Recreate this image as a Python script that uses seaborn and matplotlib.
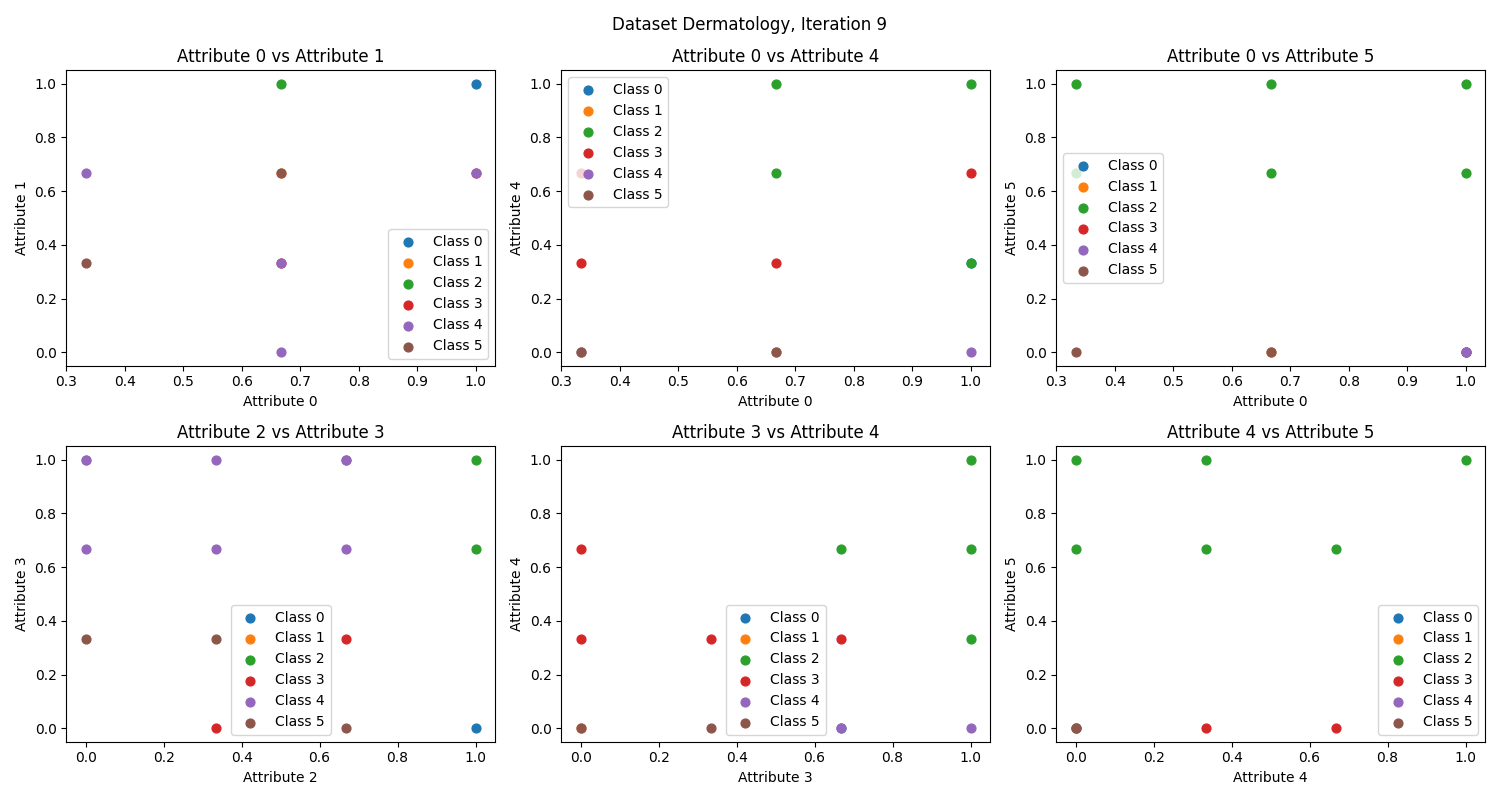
import matplotlib
matplotlib.use("Agg")
import matplotlib.pyplot as plt
import seaborn as sns

classes = [0, 1, 2, 3, 4, 5]
colors = sns.color_palette("tab10", 6)

# Attribute 0 vs Attribute 1
p1_x = [1.0, 0.667, 0.667, 1.0, 0.667, 0.333, 1.0, 0.667, 0.667, 0.333, 0.667]
p1_y = [1.0, 0.667, 1.0, 0.667, 0.333, 0.667, 0.667, 0.333, 0.0, 0.333, 0.667]
p1_c = [0, 1, 2, 3, 3, 4, 4, 4, 4, 5, 5]

# Attribute 0 vs Attribute 4
p2_x = [1.0, 0.667, 0.667, 1.0, 0.667, 1.0, 0.333, 1.0, 0.333, 0.667, 1.0, 0.333, 0.333, 0.667]
p2_y = [0.333, 0.0, 1.0, 1.0, 0.667, 0.333, 0.667, 0.667, 0.333, 0.333, 0.0, 0.0, 0.0, 0.0]
p2_c = [0, 1, 2, 2, 2, 2, 3, 3, 3, 3, 4, 4, 5, 5]

# Attribute 0 vs Attribute 5
p3_x = [1.0, 0.667, 0.333, 0.667, 1.0, 0.333, 0.667, 1.0, 1.0, 1.0, 0.333, 0.667]
p3_y = [0.0, 0.0, 1.0, 1.0, 1.0, 0.667, 0.667, 0.667, 0.0, 0.0, 0.0, 0.0]
p3_c = [0, 1, 2, 2, 2, 2, 2, 2, 3, 4, 5, 5]

# Attribute 2 vs Attribute 3
p4_x = [1.0, 0.0, 0.667, 1.0, 1.0, 0.667, 0.333, 0.0, 0.333, 0.667, 0.0, 0.333, 0.667, 0.0, 0.333, 0.667]
p4_y = [0.0, 1.0, 1.0, 1.0, 0.667, 0.333, 0.0, 1.0, 1.0, 1.0, 0.667, 0.667, 0.667, 0.333, 0.333, 0.0]
p4_c = [0, 1, 2, 2, 2, 3, 3, 4, 4, 4, 4, 4, 4, 5, 5, 5]

# Attribute 3 vs Attribute 4
p5_x = [0.667, 0.0, 1.0, 0.667, 1.0, 1.0, 0.0, 0.0, 0.333, 0.667, 0.667, 1.0, 0.0, 0.333]
p5_y = [0.0, 0.0, 1.0, 0.667, 0.667, 0.333, 0.667, 0.333, 0.333, 0.333, 0.0, 0.0, 0.0, 0.0]
p5_c = [0, 1, 2, 2, 2, 2, 3, 3, 3, 3, 4, 4, 5, 5]

# Attribute 4 vs Attribute 5
p6_x = [0.0, 0.0, 0.0, 0.333, 1.0, 0.0, 0.333, 0.667, 0.333, 0.667, 0.0, 0.0]
p6_y = [0.0, 0.0, 1.0, 1.0, 1.0, 0.667, 0.667, 0.667, 0.0, 0.0, 0.0, 0.0]
p6_c = [0, 1, 2, 2, 2, 2, 2, 2, 3, 3, 4, 5]

panels = [
    (p1_x, p1_y, p1_c, 0, 1, "lower right"),
    (p2_x, p2_y, p2_c, 0, 4, "upper left"),
    (p3_x, p3_y, p3_c, 0, 5, "center left"),
    (p4_x, p4_y, p4_c, 2, 3, "lower center"),
    (p5_x, p5_y, p5_c, 3, 4, "lower center"),
    (p6_x, p6_y, p6_c, 4, 5, "lower right"),
]

fig, axes = plt.subplots(2, 3, figsize=(15, 8), dpi=100)
for ax, (xs, ys, cs, a, b, loc) in zip(axes.flat, panels):
    for k in classes:
        kx = [x for x, c in zip(xs, cs) if c == k]
        ky = [y for y, c in zip(ys, cs) if c == k]
        sns.scatterplot(x=kx, y=ky, color=colors[k], s=40, edgecolor="face",
                        linewidth=1.0, label=f"Class {k}", ax=ax)
    ax.legend(loc=loc)
    ax.set_title(f"Attribute {a} vs Attribute {b}")
    ax.set_xlabel(f"Attribute {a}")
    ax.set_ylabel(f"Attribute {b}")

fig.suptitle("Dataset Dermatology, Iteration 9")
fig.tight_layout()
fig.savefig("out.png")
